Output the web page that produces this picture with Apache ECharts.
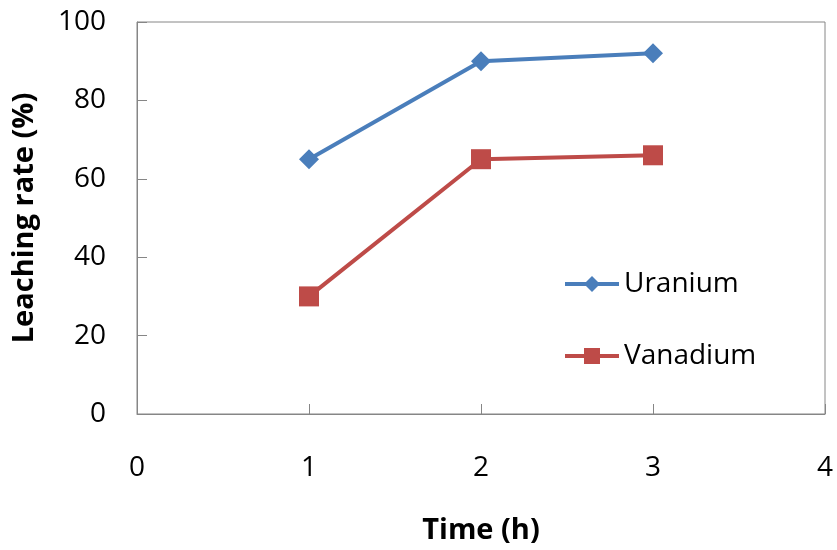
<!DOCTYPE html>
<html><head><meta charset="utf-8">
<script src="https://cdn.jsdelivr.net/npm/echarts@6/dist/echarts.min.js"></script>
<style>html,body{margin:0;padding:0;background:#fff}#c{width:837px;height:550px}</style>
</head><body><div id="c"></div>
<script>
const timeH = [1, 2, 3];
const uranium = [65, 90, 92];
const vanadium = [30, 65, 66];
const xTicks = [0, 1, 2, 3, 4];
const yTicks = [0, 20, 40, 60, 80, 100];

const font = '"Open Sans", "Noto Sans", sans-serif';
const chart = echarts.init(document.getElementById('c'));
chart.setOption({
  animation: false,
  backgroundColor: '#fff',
  grid: { left: 137, right: 12, top: 22, bottom: 136, show: true, borderColor: '#868686', borderWidth: 1 },
  xAxis: {
    type: 'value', min: xTicks[0], max: xTicks[xTicks.length - 1], interval: 1,
    name: 'Time (h)', nameLocation: 'middle', nameGap: 102,
    nameTextStyle: { fontFamily: font, fontSize: 29, fontWeight: 'bold', color: '#000' },
    axisLine: { lineStyle: { color: '#868686', width: 1 } },
    axisTick: { inside: true, length: 10, lineStyle: { color: '#868686' } },
    splitLine: { show: false },
    axisLabel: { fontFamily: font, fontSize: 28, color: '#000', margin: 40 }
  },
  yAxis: {
    type: 'value', min: yTicks[0], max: yTicks[yTicks.length - 1], interval: 20,
    name: 'Leaching rate (%)', nameLocation: 'middle', nameGap: 98, nameRotate: 90,
    nameTextStyle: { fontFamily: font, fontSize: 29, fontWeight: 'bold', color: '#000' },
    axisLine: { show: true, lineStyle: { color: '#868686', width: 1 } },
    axisTick: { show: true, inside: true, length: 10, lineStyle: { color: '#868686' } },
    splitLine: { show: false },
    axisLabel: { fontFamily: font, fontSize: 28, color: '#000', margin: 31 }
  },
  legend: {
    orient: 'vertical', left: 558, top: 264, itemGap: 42, itemWidth: 54, itemHeight: 20,
    textStyle: { fontFamily: font, fontSize: 28, color: '#000', lineHeight: 30 },
    lineStyle: { width: 4 },
    data: ['Uranium', 'Vanadium']
  },
  series: [
    { name: 'Uranium', type: 'line', data: timeH.map((t, i) => [t, uranium[i]]),
      symbol: 'diamond', symbolSize: 20, lineStyle: { color: '#4a7ebb', width: 4 },
      itemStyle: { color: '#4a7ebb' } },
    { name: 'Vanadium', type: 'line', data: timeH.map((t, i) => [t, vanadium[i]]),
      symbol: 'rect', symbolSize: 20, lineStyle: { color: '#be4b48', width: 4 },
      itemStyle: { color: '#be4b48' } }
  ]
});
</script></body></html>
